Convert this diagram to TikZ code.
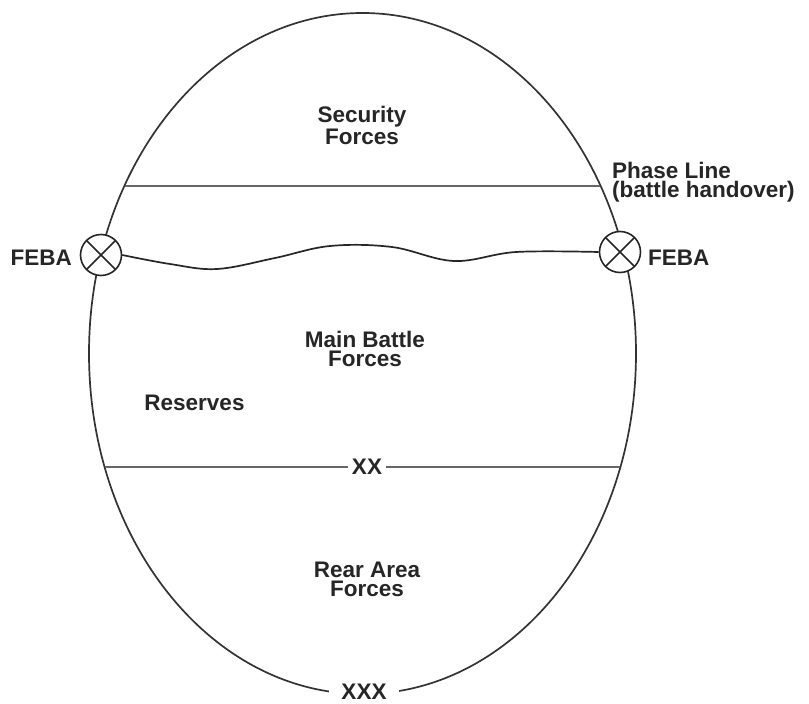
\documentclass[tikz,border=0pt]{standalone}
\usepackage{fontspec}
\setmainfont{Liberation Sans}
\begin{document}
\begin{tikzpicture}[x=1pt,y=-1pt,
  lbl/.style={font=\fontsize{22.5}{19}\selectfont\bfseries, text=black!85, inner sep=0pt, align=center},
  edge/.style={draw=black!80, line width=1.7pt},
  zone/.style={draw=black!60, line width=2.6pt},
  wave/.style={draw=black!85, line width=1.7pt},
  febamark/.style={circle, draw=black!85, line width=1.6pt, fill=white, minimum size=41pt, inner sep=0pt,
    path picture={
      \draw[black!85, line width=1.6pt]
        ([shift={(45:21pt)}]path picture bounding box.center) -- ([shift={(225:21pt)}]path picture bounding box.center)
        ([shift={(135:21pt)}]path picture bounding box.center) -- ([shift={(315:21pt)}]path picture bounding box.center);
    }},
  gapbox/.style={fill=white, inner ysep=2pt}
]
\useasboundingbox (0,0) rectangle (809,704);
\fill[white] (0,0) rectangle (809,704);

% outer oval
\draw[edge] (362.5,353.5) ellipse [x radius=273.5, y radius=340.5];

% phase line and division line
\coordinate (plL) at (124.5,186);
\coordinate (plR) at (600,186);
\draw[zone] (plL) -- (plR);

\coordinate (xxL) at (104.6,467);
\coordinate (xxR) at (620.4,467);
\draw[zone] (xxL) -- (xxR);
\node[lbl, gapbox, inner xsep=4pt] (xx) at (367,467) {XX};

% FEBA marks
\node[febamark] (febaL) at (101,255) {};
\node[febamark] (febaR) at (620,252) {};
\draw[wave] plot[smooth, tension=0.6] coordinates
  {(febaL.east) (170,264) (217,269) (275,258) (330,246) (392,247) (454,261) (516,252) (febaR.west)};

\node[lbl, anchor=base east] (febaLt) at (72,265) {FEBA};
\node[lbl, anchor=base west] (febaRt) at (648,265) {FEBA};

% labels (anchor base = baseline of last line)
\node[lbl, anchor=base] (sec) at (362,144) {Security\\Forces};
\node[lbl, anchor=base west, align=left] (phase) at (612,197) {Phase Line\\(battle handover)};
\node[lbl, anchor=base] (main) at (365,366) {Main Battle\\Forces};
\node[lbl, anchor=base] (res) at (194.5,410) {Reserves};
\node[lbl, anchor=base] (rear) at (367,596) {Rear Area\\Forces};
\node[lbl, gapbox, inner xsep=12pt] (xxx) at (364,692) {XXX};
\end{tikzpicture}
\end{document}
